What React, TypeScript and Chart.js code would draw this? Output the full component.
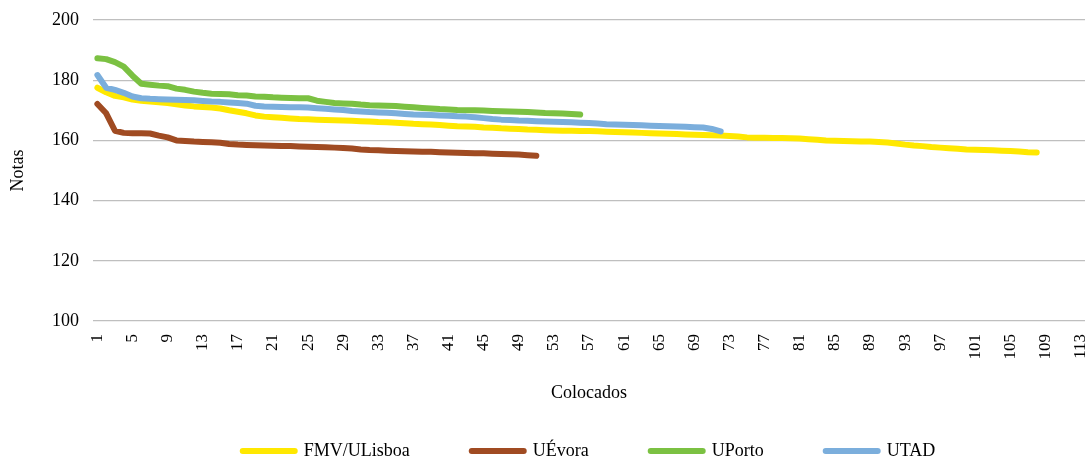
import React, { useEffect, useRef } from 'react';
import { Chart, registerables } from 'chart.js';

Chart.register(...registerables);

const categories: string[] = Array.from({ length: 113 }, (_, i) => String(i + 1));

const seriesNames = ['FMV/ULisboa', 'UÉvora', 'UPorto', 'UTAD'];
const seriesColors = ['#FFE800', '#A04B22', '#7BC142', '#7BAEDC'];

const fmvULisboa = [
  177.5, 176.0, 174.8, 174.3, 173.6, 173.2, 172.9, 172.7, 172.4, 172.0,
  171.6, 171.3, 171.1, 170.9, 170.6, 170.0, 169.5, 169.0, 168.3, 167.9,
  167.7, 167.5, 167.3, 167.1, 167.0, 166.9, 166.8, 166.7, 166.6, 166.5,
  166.4, 166.3, 166.1, 166.0, 165.9, 165.7, 165.5, 165.4, 165.3, 165.1,
  164.9, 164.7, 164.6, 164.5, 164.3, 164.2, 164.0, 163.9, 163.8, 163.6,
  163.5, 163.4, 163.3, 163.2, 163.2, 163.1, 163.1, 163.0, 162.9, 162.8,
  162.7, 162.6, 162.5, 162.4, 162.3, 162.2, 162.1, 162.0, 161.9, 161.8,
  161.7, 161.6, 161.5, 161.3, 161.0, 160.9, 160.9, 160.8, 160.8, 160.7,
  160.6, 160.4, 160.2, 160.0, 159.9, 159.8, 159.7, 159.6, 159.6, 159.5,
  159.3, 159.0, 158.6, 158.3, 158.1, 157.8, 157.6, 157.4, 157.2, 157.0,
  156.9, 156.8, 156.7, 156.6, 156.5, 156.3, 156.1, 156.0,
];

const uEvora = [
  172.1, 169.0, 163.2, 162.5, 162.4, 162.4, 162.3, 161.6, 161.0, 160.0,
  159.8, 159.6, 159.5, 159.4, 159.2, 158.8, 158.6, 158.5, 158.4, 158.3,
  158.2, 158.1, 158.1, 158.0, 157.9, 157.8, 157.7, 157.6, 157.5, 157.3,
  157.0, 156.8, 156.7, 156.6, 156.5, 156.4, 156.3, 156.2, 156.2, 156.1,
  156.0, 155.9, 155.8, 155.7, 155.7, 155.6, 155.5, 155.4, 155.3, 155.1,
  154.9,
];

const uPorto = [
  187.3, 187.0, 186.0, 184.5, 181.5, 178.8, 178.5, 178.2, 178.0, 177.2,
  176.8, 176.2, 175.8, 175.5, 175.4, 175.3, 175.0, 174.9, 174.6, 174.5,
  174.3, 174.2, 174.1, 174.0, 174.0, 173.2, 172.8, 172.4, 172.3, 172.2,
  171.9, 171.7, 171.6, 171.5, 171.4, 171.2, 171.0, 170.8, 170.6, 170.4,
  170.3, 170.1, 170.0, 170.0, 169.9, 169.8, 169.7, 169.6, 169.5, 169.4,
  169.3, 169.1, 169.0, 168.9, 168.8, 168.6,
];

const utad = [
  181.7, 177.5, 176.8, 175.8, 174.6, 174.0, 173.8, 173.7, 173.6, 173.5,
  173.4, 173.3, 173.1, 172.9, 172.8, 172.6, 172.4, 172.2, 171.5, 171.3,
  171.2, 171.1, 171.0, 171.0, 170.9, 170.7, 170.5, 170.3, 170.1, 169.8,
  169.6, 169.4, 169.3, 169.2, 169.0, 168.8, 168.6, 168.5, 168.4, 168.3,
  168.2, 168.0, 167.9, 167.7, 167.4, 167.1, 166.9, 166.8, 166.6, 166.5,
  166.4, 166.3, 166.2, 166.1, 166.0, 165.9, 165.8, 165.6, 165.4, 165.3,
  165.2, 165.1, 165.0, 164.9, 164.8, 164.7, 164.6, 164.5, 164.4, 164.3,
  163.8, 163.0,
];

const seriesValues = [fmvULisboa, uEvora, uPorto, utad];

const yMin = 100;
const yMax = 200;
const yStep = 20;
const xLabelEvery = 4;
const xTitle = 'Colocados';
const yTitle = 'Notas';

const FONT = '"Liberation Serif", "Times New Roman", serif';

export default function App() {
  const canvasRef = useRef<HTMLCanvasElement | null>(null);

  useEffect(() => {
    const canvas = canvasRef.current;
    if (!canvas) return;
    const datasets = seriesNames.map((name, i) => ({
      label: name,
      data: seriesValues[i],
      borderColor: seriesColors[i],
      backgroundColor: seriesColors[i],
      borderWidth: 6,
      borderCapStyle: 'round' as const,
      borderJoinStyle: 'round' as const,
      pointRadius: 0,
      pointHoverRadius: 0,
      tension: 0,
      fill: false,
      order: seriesNames.length - i,
    }));

    const chart = new Chart(canvas, {
      type: 'line',
      data: { labels: categories, datasets },
      options: {
        animation: false,
        responsive: false,
        devicePixelRatio: 1,
        layout: { padding: { top: 20, right: 2, bottom: -7, left: 0 } },
        plugins: {
          tooltip: { enabled: false },
          legend: {
            position: 'bottom',
            fullSize: false,
            labels: {
              usePointStyle: true,
              pointStyle: 'line',
              pointStyleWidth: 52,
              padding: 62,
              color: '#000',
              font: { family: FONT, size: 18 },
              sort: (a: any, b: any) => a.datasetIndex - b.datasetIndex,
              generateLabels: (ch: any) =>
                ch.data.datasets.map((ds: any, i: number) => ({
                  text: ds.label,
                  fillStyle: ds.borderColor,
                  strokeStyle: ds.borderColor,
                  lineWidth: 6,
                  lineCap: 'round',
                  pointStyle: 'line',
                  datasetIndex: i,
                  hidden: false,
                  fontColor: '#000',
                })),
            },
          },
        },
        scales: {
          x: {
            type: 'category',
            offset: true,
            grid: { display: false, drawTicks: false },
            border: { display: false },
            ticks: {
              autoSkip: false,
              minRotation: 90,
              maxRotation: 90,
              padding: 13,
              color: '#000',
              font: { family: FONT, size: 17 },
              callback: (_v: any, idx: number) => (idx % xLabelEvery === 0 ? categories[idx] : ''),
            },
            title: {
              display: true,
              text: xTitle,
              color: '#000',
              font: { family: FONT, size: 18 },
              padding: { top: 0, bottom: -24 },
            },
            afterFit: (s: any) => {
              s.height = 59;
              s.paddingLeft = 0;
              s.paddingRight = 0;
            },
          },
          y: {
            min: yMin,
            max: yMax,
            grid: { color: '#BFBFBF', lineWidth: 1.3, drawTicks: false },
            border: { display: false },
            ticks: {
              stepSize: yStep,
              padding: 14,
              color: '#000',
              font: { family: FONT, size: 18 },
            },
            title: {
              display: true,
              text: yTitle,
              color: '#000',
              font: { family: FONT, size: 18 },
              padding: { top: 7, bottom: 0 },
            },
            afterFit: (s: any) => {
              s.width = 93;
              s.paddingTop = 0;
              s.paddingBottom = 0;
            },
          },
        },
      },
    });
    return () => chart.destroy();
  }, []);

  return (
    <div style={{ position: 'absolute', left: 0, top: 0, width: 1087, height: 463, background: '#fff' }}>
      <canvas ref={canvasRef} width={1087} height={463} style={{ display: 'block' }} />
    </div>
  );
}
